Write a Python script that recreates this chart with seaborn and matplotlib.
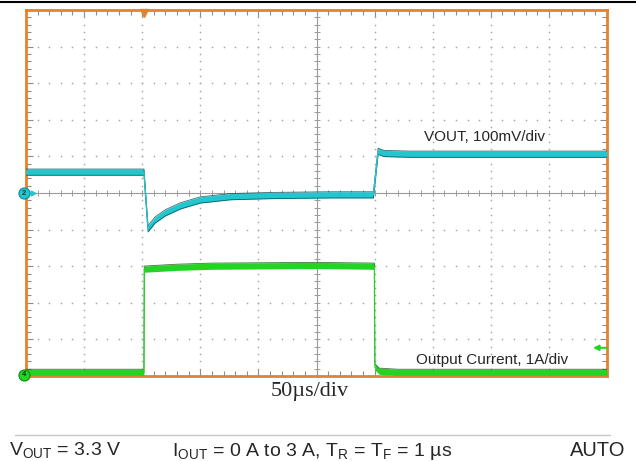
import numpy as np
import pandas as pd
import matplotlib
matplotlib.use("Agg")
import matplotlib.pyplot as plt
from matplotlib.lines import Line2D
import seaborn as sns

# ---- scope settings ----
TIME_PER_DIV = 50.0      # µs/div
VOUT_PER_DIV = 100.0     # mV/div
IOUT_PER_DIV = 1.0       # A/div
CH2_OFFSET_DIV = 0.0     # VOUT reference at screen centre
CH4_OFFSET_DIV = -5.0    # current reference at bottom edge
TRIGGER_US = 101.5

# ---- channel 2: output voltage (mV, relative to reference) ----
vout_time_us = [0, 101.5, 105, 111, 120, 133, 150, 176, 210, 262, 299, 303, 308, 330, 420, 500]
vout_mv = [57, 57, -98, -74, -54, -35, -19, -10, -7, -5, -5, 114, 108, 106, 106, 106]

# ---- channel 4: output current (A) ----
iout_time_us = [0, 101.5, 101.8, 130, 160, 250, 299.8, 300.2, 304, 320, 500]
iout_a = [0.10, 0.10, 2.92, 2.97, 3.00, 3.02, 3.00, 0.25, 0.13, 0.10, 0.10]

sns.set_style("white")
plt.rcParams["font.family"] = ["Liberation Sans", "DejaVu Sans"]

fig = plt.figure(figsize=(6.36, 4.61), dpi=100)
W, H = 636.0, 461.0
ax = fig.add_axes([26 / W, 1 - 376 / H, 581 / W, 366 / H])
ax.set_xlim(0, 10 * TIME_PER_DIV)
ax.set_ylim(-5, 5)

# graticule: dotted division lines
grid_col = "#a8a8a8"
fine_y = np.arange(-5, 5.001, 0.2)
fine_x = np.arange(0, 500.001, TIME_PER_DIV / 5)
for gx in np.arange(TIME_PER_DIV, 500, TIME_PER_DIV):
    if abs(gx - 250) > 1e-6:
        ax.plot(np.full_like(fine_y, gx), fine_y, ls="none", marker="o", ms=1.2,
                color=grid_col, mew=0)
for gy in range(-4, 5):
    if gy != 0:
        ax.plot(fine_x, np.full_like(fine_x, gy), ls="none", marker="o", ms=1.2,
                color=grid_col, mew=0)

# centre crosshair with fine ticks
ax.axhline(0, color="#9a9a9a", lw=0.8, zorder=1)
ax.axvline(250, color="#9a9a9a", lw=0.8, zorder=1)
ax.plot(fine_x, np.zeros_like(fine_x), ls="none", marker="|", ms=4.5, mew=0.7,
        color="#9a9a9a")
ax.plot(np.full_like(fine_y, 250), fine_y, ls="none", marker="_", ms=4.5, mew=0.7,
        color="#9a9a9a")

# frame and edge ticks
orange = "#E8822A"
for s in ax.spines.values():
    s.set_color(orange)
    s.set_linewidth(2.0)
ax.set_xticks(np.arange(0, 500.001, TIME_PER_DIV))
ax.set_xticks(fine_x, minor=True)
ax.set_yticks(np.arange(-5, 5.001, 1))
ax.set_yticks(fine_y, minor=True)
ax.tick_params(which="both", direction="in", top=True, right=True, bottom=True, left=True,
               labelbottom=False, labelleft=False, color="#8c8c8c", width=0.8)
ax.tick_params(which="major", length=5)
ax.tick_params(which="minor", length=3.5)

# traces
vdf = pd.DataFrame({"t": vout_time_us,
                    "div": np.array(vout_mv) / VOUT_PER_DIV + CH2_OFFSET_DIV})
idf = pd.DataFrame({"t": iout_time_us,
                    "div": np.array(iout_a) / IOUT_PER_DIV + CH4_OFFSET_DIV})

cyan, cyan_edge = "#22C6CF", "#0C4A50"
green, green_edge = "#24D424", "#0E5A10"
hw = 0.085
ax.fill_between(vdf["t"], vdf["div"] - hw, vdf["div"] + hw, color=cyan, lw=0, zorder=3)
ax.plot(vdf["t"], vdf["div"] + hw, color=cyan_edge, lw=0.6, alpha=0.8, zorder=4)
ax.plot(vdf["t"], vdf["div"] - hw, color=cyan_edge, lw=0.6, alpha=0.8, zorder=4)
sns.lineplot(data=vdf, x="t", y="div", ax=ax, color=cyan, lw=0.9, zorder=5,
             estimator=None, sort=False)

ax.fill_between(idf["t"], idf["div"] - hw, idf["div"] + hw, color=green, lw=0, zorder=3)
ax.plot(idf["t"], idf["div"] + hw, color=green_edge, lw=0.6, alpha=0.8, zorder=4)
sns.lineplot(data=idf, x="t", y="div", ax=ax, color=green, lw=0.9, zorder=5,
             estimator=None, sort=False)
ax.set_xlabel("")
ax.set_ylabel("")

# trigger position and channel reference markers
ax.plot([TRIGGER_US], [4.93], marker="v", ms=5.5, color=orange, clip_on=False, zorder=6)
ax.plot([-1.7], [CH2_OFFSET_DIV], marker="o", ms=8, color=cyan, mec="#138a92", mew=0.8,
        clip_on=False, zorder=7)
ax.text(-1.7, CH2_OFFSET_DIV, "2", fontsize=5.5, ha="center", va="center",
        color="#0b3a3e", fontweight="bold", zorder=8, clip_on=False)
ax.plot([6], [CH2_OFFSET_DIV], marker=">", ms=3.5, color=cyan, zorder=7)
ax.plot([-1.7], [CH4_OFFSET_DIV + 0.03], marker="o", ms=8, color=green, mec="#0f8a12",
        mew=0.8, clip_on=False, zorder=7)
ax.text(-1.7, CH4_OFFSET_DIV + 0.03, "4", fontsize=5.5, ha="center", va="center",
        color="#0b3a0e", fontweight="bold", zorder=8, clip_on=False)
# trigger level indicator for the current channel
ax.annotate("", xy=(488, -4.23), xytext=(500, -4.23),
            arrowprops=dict(arrowstyle="-|>", color=green, lw=1.4, mutation_scale=8,
                            shrinkA=0, shrinkB=0),
            zorder=7, annotation_clip=False)

# channel captions
fig.text(484 / W, 1 - 137 / H, "VOUT, 100mV/div", fontsize=11, ha="center", va="center")
fig.text(492 / W, 1 - 360 / H, "Output Current, 1A/div", fontsize=11, ha="center",
         va="center")
fig.text(310 / W, 1 - 391 / H, "50µs/div", fontsize=16, ha="center", va="center",
         family=["Liberation Serif", "DejaVu Serif"])

# header rule and footer with test conditions
fig.add_artist(Line2D([0, 1], [1 - 2.5 / H] * 2, color="black", lw=1.5))
fig.add_artist(Line2D([15 / W, 610 / W], [1 - 435 / H] * 2, color="#c8c8c8", lw=1.0))
foot_y = 1 - 456 / H
fig.text(9 / W, foot_y, r"V$_{\mathregular{OUT}}$ = 3.3 V", fontsize=14,
         ha="left", va="baseline")
fig.text(172 / W, foot_y,
         r"I$_{\mathregular{OUT}}$ = 0 A to 3 A, T$_{\mathregular{R}}$ = "
         r"T$_{\mathregular{F}}$ = 1 µs",
         fontsize=14, ha="left", va="baseline")
fig.text(625 / W, foot_y, "AUTO", fontsize=14.5, ha="right", va="baseline")

fig.savefig("out.png", dpi=100)
